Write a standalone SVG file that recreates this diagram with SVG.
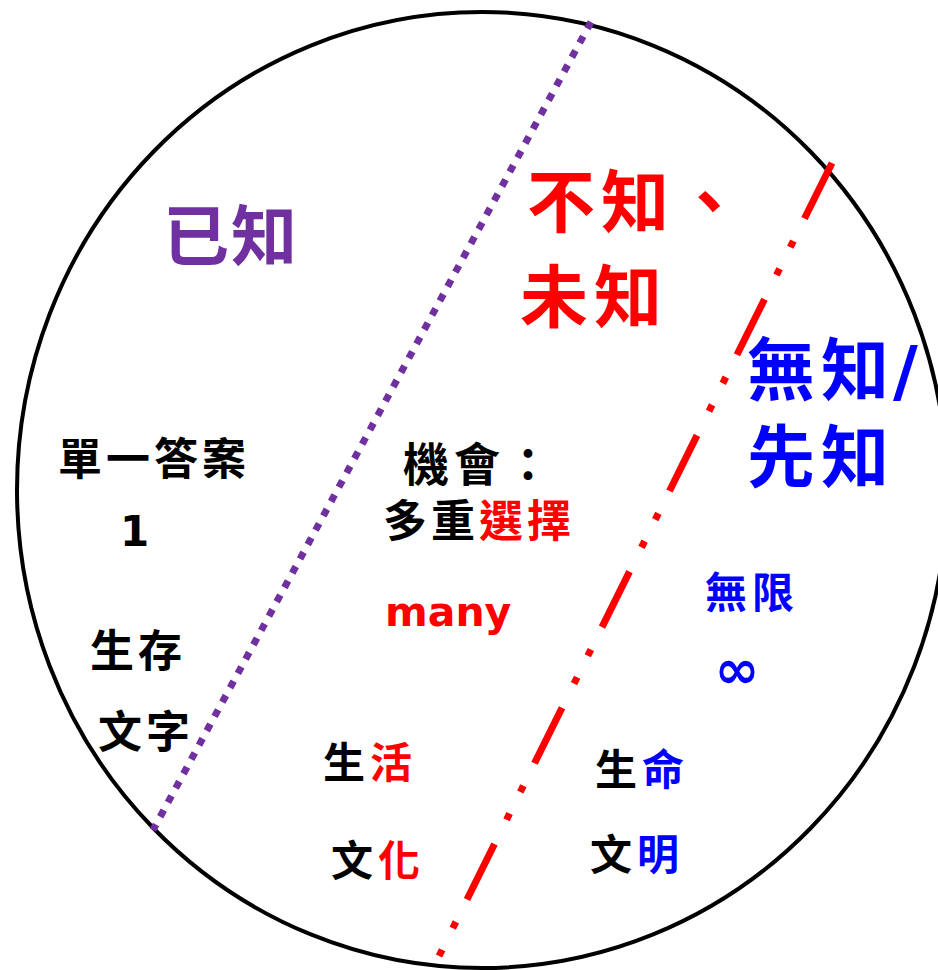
<svg xmlns="http://www.w3.org/2000/svg" width="938" height="970" viewBox="0 0 938 970">
<style>
.t{font-family:"Noto Sans CJK TC","Noto Sans CJK SC",sans-serif;font-weight:700}
.big{font-size:68px;letter-spacing:6px}
.mid{font-size:44px;letter-spacing:4px}
.sm{font-size:42px;letter-spacing:5px}
.lat{font-family:"DejaVu Sans","Verdana",sans-serif;font-weight:700}
.k{fill:#000}
.r{fill:#FF0000}
.b{fill:#0000FF}
.p{fill:#7030A0}
</style>
<rect width="938" height="970" fill="#fff"/>
<g id="circle">
<ellipse cx="482" cy="490" rx="465" ry="478" fill="none" stroke="#000" stroke-width="4"/>
</g>
<g id="connectors">
<line x1="591" y1="22" x2="153" y2="830" stroke="#7030A0" stroke-width="7" stroke-dasharray="7.5 8.8"/>
<line x1="832" y1="163" x2="438" y2="958" stroke="#FF0000" stroke-width="7" stroke-dasharray="62 25 7 24 7 27"/>
</g>
<g id="known">
<text class="t p" x="163" y="260" font-size="66" letter-spacing="2">已知</text>
<text class="t k mid" x="58" y="475">單一答案</text>
<text class="lat k" x="134.5" y="546" font-size="42" text-anchor="middle">1</text>
<text class="t k mid" x="90" y="667" letter-spacing="2">生存</text>
<text class="t k mid" x="98" y="748" letter-spacing="2">文字</text>
</g>
<g id="unknown">
<text class="t r big" x="527" y="227">不知、</text>
<text class="t r big" x="520" y="322">未知</text>
<text class="t k" x="403" y="481" font-size="46" letter-spacing="5">機會：</text>
<text class="t k mid" x="383" y="537">多重<tspan class="r">選擇</tspan></text>
<text class="lat r" x="385" y="626" font-size="41">many</text>
<text class="t k sm" x="323" y="778">生<tspan class="r">活</tspan></text>
<text class="t k sm" x="331" y="876">文<tspan class="r">化</tspan></text>
</g>
<g id="ignorance">
<text class="t b big" x="747" y="395">無知<tspan class="lat" x="893" letter-spacing="0">/</tspan></text>
<text class="t b big" x="747" y="482">先知</text>
<text class="t b sm" x="705" y="608">無限</text>
<text class="lat b" x="737" y="688" font-size="54" text-anchor="middle">∞</text>
<text class="t k sm" x="595" y="785">生<tspan class="b">命</tspan></text>
<text class="t k sm" x="590" y="870">文<tspan class="b">明</tspan></text>
</g>
</svg>
